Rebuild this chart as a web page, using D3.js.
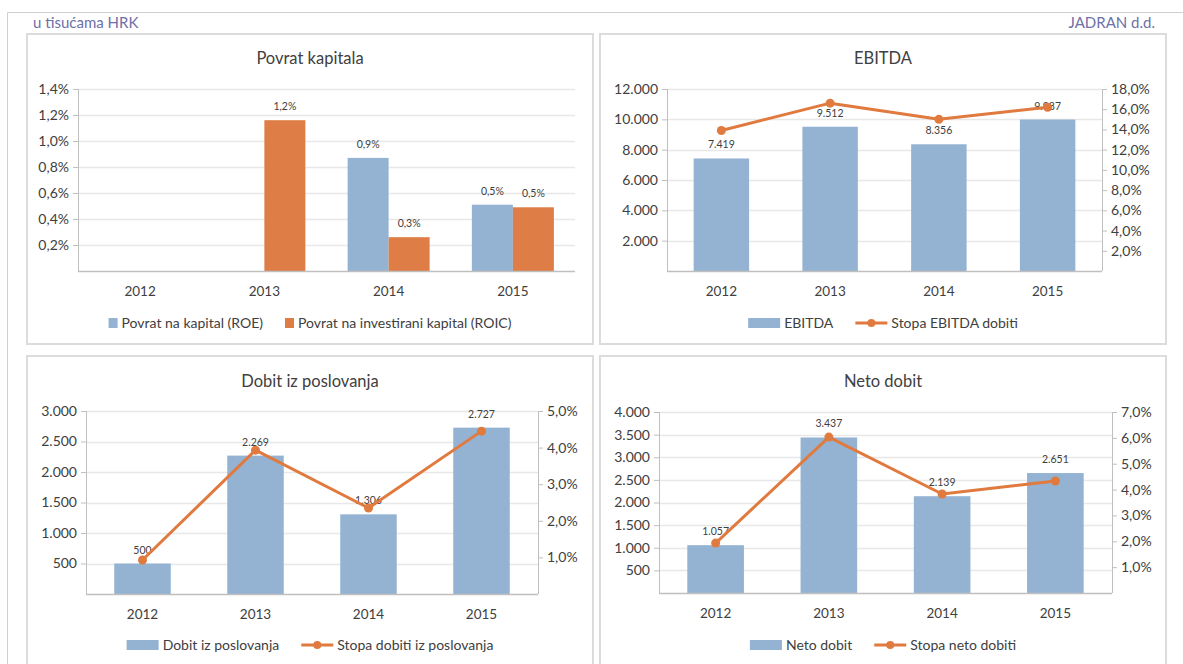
<!DOCTYPE html>
<html>
<head>
<meta charset="utf-8">
<script src="https://cdn.jsdelivr.net/npm/d3@7"></script>
<style>
  body { margin: 0; background: #fff; }
  svg { display: block; font-family: Lato, "Open Sans", sans-serif; }
</style>
</head>
<body>
<div id="chart"></div>
<script>
// data
var years = ["2012", "2013", "2014", "2015"];

var roe = [null, null, 0.87, 0.51];          // Povrat na kapital (ROE), %
var roic = [null, 1.16, 0.26, 0.49];         // Povrat na investirani kapital (ROIC), %

var ebitda = [7419, 9512, 8356, 9987];
var ebitdaRate = [13.9, 16.6, 15.0, 16.2];

var dobit = [500, 2269, 1306, 2727];
var dobitRate = [0.93, 3.93, 2.35, 4.45];

var neto = [1057, 3437, 2139, 2651];
var netoRate = [1.93, 6.03, 3.83, 4.33];

var roeTicks = [0.2, 0.4, 0.6, 0.8, 1.0, 1.2, 1.4];
var ebitdaTicks = [2000, 4000, 6000, 8000, 10000, 12000];
var ebitdaRateTicks = [2, 4, 6, 8, 10, 12, 14, 16, 18];
var dobitTicks = [500, 1000, 1500, 2000, 2500, 3000];
var dobitRateTicks = [1, 2, 3, 4, 5];
var netoTicks = [500, 1000, 1500, 2000, 2500, 3000, 3500, 4000];
var netoRateTicks = [1, 2, 3, 4, 5, 6, 7];

var blue = "#94b3d3";
var orange = "#de7d45";
var lineOrange = "#e07a3e";
var textCol = "#404040";

// Croatian number format: 12.000 and 1,2%
var hr = d3.formatLocale({decimal: ",", thousands: ".", grouping: [3], currency: ["", ""]});
var fmtNum = hr.format(",.0f");
var fmtPct = function(v) { return hr.format(".1f")(v) + "%"; };

var svg = d3.select("#chart").append("svg")
    .attr("width", 1183)
    .attr("height", 664);

svg.append("rect").attr("width", 1183).attr("height", 664).attr("fill", "#fff");

// outer frame
svg.append("path")
    .attr("d", "M7.5,664 V12.5 H1183")
    .attr("fill", "none")
    .attr("stroke", "#cfcfcf");

svg.append("text")
    .attr("x", 33).attr("y", 28)
    .attr("fill", "#6e70a8")
    .style("font-size", "15px")
    .text("u tisućama HRK");

svg.append("text")
    .attr("x", 1155).attr("y", 28)
    .attr("text-anchor", "end")
    .attr("fill", "#6e70a8")
    .style("font-size", "15px")
    .text("JADRAN d.d.");

function drawPanel(cfg) {
    var g = svg.append("g");
    var box = cfg.box, p = cfg.plot;

    g.append("rect")
        .attr("x", box[0]).attr("y", box[1])
        .attr("width", box[2] - box[0]).attr("height", box[3] - box[1])
        .attr("fill", "#fff")
        .attr("stroke", "#dcdcdc")
        .attr("stroke-width", 2);

    g.append("text")
        .attr("x", (box[0] + box[2]) / 2).attr("y", cfg.titleY)
        .attr("text-anchor", "middle")
        .attr("fill", textCol)
        .style("font-size", "16.5px")
        .text(cfg.title);

    var x = d3.scaleBand()
        .domain(years)
        .range([p[0], p[2]])
        .paddingInner(cfg.pad)
        .paddingOuter(cfg.pad / 2);

    var y = d3.scaleLinear().domain(cfg.yDomain).range([p[3], p[1]]);

    // gridlines
    g.append("g").selectAll("line")
        .data(cfg.yTicks)
        .enter().append("line")
        .attr("x1", p[0]).attr("x2", p[2])
        .attr("y1", function(d) { return Math.round(y(d)) + 0.5; })
        .attr("y2", function(d) { return Math.round(y(d)) + 0.5; })
        .attr("stroke", "#e8e8e8")
        .attr("stroke-width", 1.5);

    // left axis
    var yAxis = d3.axisLeft(y)
        .tickValues(cfg.yTicks)
        .tickFormat(cfg.yFmt)
        .tickSize(5)
        .tickSizeOuter(0)
        .tickPadding(4);
    var gy = g.append("g")
        .attr("transform", "translate(" + p[0] + ",0)")
        .call(yAxis);
    gy.select(".domain").attr("stroke", "#bfbfbf");
    gy.selectAll(".tick line").attr("stroke", "#bfbfbf");
    gy.selectAll("text")
        .attr("fill", textCol)
        .style("font-family", "Lato, sans-serif")
        .style("font-size", "14px");
    gy.select(".domain").attr("d", "M0.5," + p[1] + "V" + p[3]);

    // bars
    var nSeries = cfg.bars.length;
    var xi = d3.scaleBand()
        .domain(d3.range(nSeries))
        .range([0, x.bandwidth()]);

    cfg.bars.forEach(function(s, si) {
        var rows = years.map(function(yr, i) { return {year: yr, v: s.values[i]}; })
            .filter(function(d) { return d.v != null; });

        g.append("g").selectAll("rect")
            .data(rows)
            .enter().append("rect")
            .attr("x", function(d) { return x(d.year) + xi(si); })
            .attr("y", function(d) { return y(d.v); })
            .attr("width", xi.bandwidth())
            .attr("height", function(d) { return y(0) - y(d.v); })
            .attr("fill", s.color);

        g.append("g").selectAll("text")
            .data(rows)
            .enter().append("text")
            .attr("x", function(d) { return x(d.year) + xi(si) + xi.bandwidth() / 2; })
            .attr("y", function(d) { return y(d.v) - 10; })
            .attr("text-anchor", "middle")
            .attr("fill", textCol)
            .style("font-size", "10.5px")
            .text(function(d) { return s.labelFmt(d.v); });
    });

    // baseline
    g.append("line")
        .attr("x1", p[0]).attr("x2", p[2])
        .attr("y1", y(0) + 0.5).attr("y2", y(0) + 0.5)
        .attr("stroke", "#bfbfbf")
        .attr("stroke-width", 1.5);

    // x labels
    g.append("g").selectAll("text")
        .data(years)
        .enter().append("text")
        .attr("x", function(d) { return x(d) + x.bandwidth() / 2; })
        .attr("y", y(0) + 25)
        .attr("text-anchor", "middle")
        .attr("fill", textCol)
        .style("font-size", "13.5px")
        .text(function(d) { return d; });

    // right axis and line
    if (cfg.line) {
        var yr = d3.scaleLinear().domain(cfg.rDomain).range([p[3], p[1]]);
        var rAxis = d3.axisRight(yr)
            .tickValues(cfg.rTicks)
            .tickFormat(fmtPct)
            .tickSize(5)
            .tickSizeOuter(0)
            .tickPadding(4);
        var gr = g.append("g")
            .attr("transform", "translate(" + p[2] + ",0)")
            .call(rAxis);
        gr.select(".domain").attr("stroke", "#bfbfbf").attr("d", "M0.5," + p[1] + "V" + p[3]);
        gr.selectAll(".tick line").attr("stroke", "#bfbfbf");
        gr.selectAll("text")
            .attr("fill", textCol)
            .style("font-family", "Lato, sans-serif")
            .style("font-size", "14px");

        var pts = years.map(function(yr2, i) { return {year: yr2, v: cfg.line.values[i]}; });
        var line = d3.line()
            .x(function(d) { return x(d.year) + x.bandwidth() / 2; })
            .y(function(d) { return yr(d.v); });

        g.append("path")
            .datum(pts)
            .attr("d", line)
            .attr("fill", "none")
            .attr("stroke", lineOrange)
            .attr("stroke-width", 3)
            .attr("stroke-linejoin", "round");

        g.append("g").selectAll("circle")
            .data(pts)
            .enter().append("circle")
            .attr("cx", function(d) { return x(d.year) + x.bandwidth() / 2; })
            .attr("cy", function(d) { return yr(d.v); })
            .attr("r", 4.5)
            .attr("fill", lineOrange);
    }

    // legend
    var items = cfg.bars.map(function(s) { return {type: cfg.line ? "wide" : "sq", color: s.color, name: s.name}; });
    if (cfg.line) items.push({type: "line", color: lineOrange, name: cfg.line.name});

    var lg = g.append("g");
    var cx = 0;
    items.forEach(function(it, i) {
        var sw = it.type === "sq" ? 9 : 32;
        var ig = lg.append("g").attr("transform", "translate(" + cx + ",0)");
        if (it.type === "line") {
            ig.append("line").attr("x1", 0).attr("x2", sw).attr("y1", 0).attr("y2", 0)
                .attr("stroke", it.color).attr("stroke-width", 3);
            ig.append("circle").attr("cx", sw / 2).attr("cy", 0).attr("r", 4).attr("fill", it.color);
        } else {
            ig.append("rect").attr("x", 0).attr("y", -5).attr("width", sw).attr("height", 10)
                .attr("fill", it.color);
        }
        var t = ig.append("text")
            .attr("x", sw + 4).attr("y", 5)
            .attr("fill", textCol)
            .style("font-size", "14px")
            .text(it.name);
        cx += sw + 4 + t.node().getComputedTextLength() + 22;
    });
    var lw = cx - 22;
    lg.attr("transform", "translate(" + ((box[0] + box[2]) / 2 - lw / 2) + "," + cfg.legendY + ")");
}

drawPanel({
    box: [27, 34, 593, 344],
    plot: [78, 89, 575, 271],
    title: "Povrat kapitala",
    titleY: 64,
    pad: 0.34,
    yDomain: [0, 1.4],
    yTicks: roeTicks,
    yFmt: fmtPct,
    bars: [
        {values: roe, color: blue, name: "Povrat na kapital (ROE)", labelFmt: fmtPct},
        {values: roic, color: orange, name: "Povrat na investirani kapital (ROIC)", labelFmt: fmtPct}
    ],
    legendY: 323
});

drawPanel({
    box: [600, 34, 1166, 344],
    plot: [667, 89, 1102, 271],
    title: "EBITDA",
    titleY: 64,
    pad: 0.49,
    yDomain: [0, 12000],
    yTicks: ebitdaTicks,
    yFmt: fmtNum,
    rDomain: [0, 18],
    rTicks: ebitdaRateTicks,
    bars: [{values: ebitda, color: blue, name: "EBITDA", labelFmt: fmtNum}],
    line: {values: ebitdaRate, name: "Stopa EBITDA dobiti"},
    legendY: 323
});

drawPanel({
    box: [27, 356, 593, 680],
    plot: [86, 411, 538, 594],
    title: "Dobit iz poslovanja",
    titleY: 387,
    pad: 0.5,
    yDomain: [0, 3000],
    yTicks: dobitTicks,
    yFmt: fmtNum,
    rDomain: [0, 5],
    rTicks: dobitRateTicks,
    bars: [{values: dobit, color: blue, name: "Dobit iz poslovanja", labelFmt: fmtNum}],
    line: {values: dobitRate, name: "Stopa dobiti iz poslovanja"},
    legendY: 645
});

drawPanel({
    box: [600, 356, 1166, 680],
    plot: [659, 412, 1112, 593],
    title: "Neto dobit",
    titleY: 387,
    pad: 0.5,
    yDomain: [0, 4000],
    yTicks: netoTicks,
    yFmt: fmtNum,
    rDomain: [0, 7],
    rTicks: netoRateTicks,
    bars: [{values: neto, color: blue, name: "Neto dobit", labelFmt: fmtNum}],
    line: {values: netoRate, name: "Stopa neto dobiti"},
    legendY: 645
});
</script>
</body>
</html>
